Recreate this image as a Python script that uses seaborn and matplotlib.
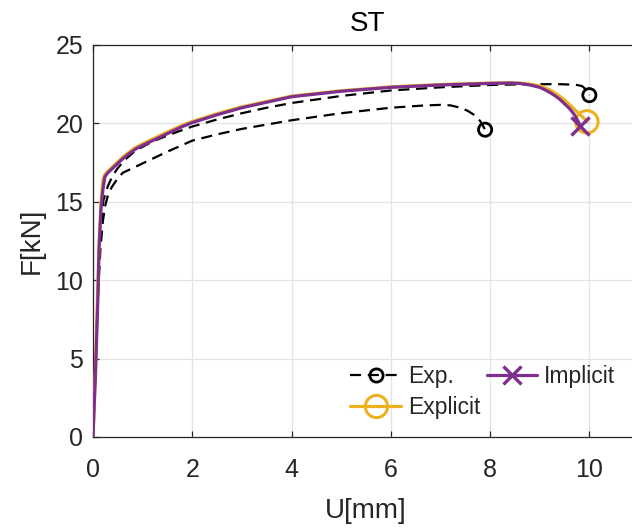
import matplotlib
matplotlib.use("Agg")
import matplotlib.pyplot as plt
import seaborn as sns
from matplotlib.lines import Line2D

# ---- data ----
u_exp1 = [0, 0.05, 0.10, 0.15, 0.21, 0.30, 0.40, 0.50, 0.65, 0.85, 1.2, 1.6, 2.0, 2.5, 3.0, 3.5, 4.0, 5.0, 6.0, 7.0, 8.0, 8.8, 9.4, 9.6, 9.75, 9.85, 9.92, 9.97, 10.0]
f_exp1 = [0, 4.5, 9.5, 13.0, 15.1, 16.0, 16.7, 17.15, 17.7, 18.25, 18.85, 19.35, 19.8, 20.25, 20.65, 21.0, 21.3, 21.75, 22.1, 22.3, 22.45, 22.5, 22.5, 22.48, 22.45, 22.38, 22.2, 22.0, 21.8]

u_exp2 = [0, 0.05, 0.10, 0.15, 0.20, 0.25, 0.30, 0.38, 0.50, 0.60, 0.80, 1.0, 1.5, 2.0, 2.5, 3.0, 4.0, 5.0, 6.0, 6.7, 7.0, 7.2, 7.4, 7.55, 7.7, 7.8, 7.9]
f_exp2 = [0, 4.5, 9.0, 12.0, 13.8, 14.8, 15.4, 15.95, 16.5, 16.85, 17.15, 17.45, 18.2, 18.9, 19.3, 19.65, 20.2, 20.65, 21.0, 21.15, 21.18, 21.15, 21.0, 20.8, 20.5, 20.15, 19.6]

u_expl = [0, 0.05, 0.10, 0.13, 0.16, 0.20, 0.24, 0.30, 0.40, 0.50, 0.60, 0.70, 0.85, 1.0, 1.2, 1.4, 1.6, 1.8, 2.0, 2.5, 3.0, 3.5, 4.0, 5.0, 6.0, 7.0, 8.0, 8.4, 8.7, 9.0, 9.2, 9.35, 9.5, 9.6, 9.7, 9.8, 9.9, 9.95]
f_expl = [0, 4.5, 10.0, 12.8, 14.9, 16.4, 16.75, 16.95, 17.25, 17.55, 17.85, 18.1, 18.45, 18.7, 19.0, 19.3, 19.6, 19.88, 20.12, 20.62, 21.06, 21.4, 21.74, 22.08, 22.33, 22.48, 22.57, 22.6, 22.55, 22.4, 22.15, 21.85, 21.5, 21.2, 20.9, 20.6, 20.3, 20.1]

u_impl = [0, 0.05, 0.10, 0.12, 0.16, 0.20, 0.24, 0.30, 0.40, 0.50, 0.60, 0.70, 0.85, 1.0, 1.2, 1.4, 1.6, 1.8, 2.0, 2.5, 3.0, 3.5, 4.0, 5.0, 6.0, 7.0, 8.0, 8.4, 8.6, 8.8, 9.0, 9.1, 9.2, 9.3, 9.4, 9.5, 9.6, 9.7, 9.82]
f_impl = [0, 4.0, 9.0, 11.9, 14.5, 15.8, 16.6, 16.85, 17.15, 17.45, 17.75, 18.0, 18.35, 18.6, 18.9, 19.2, 19.5, 19.8, 20.05, 20.55, 21.0, 21.35, 21.7, 22.05, 22.3, 22.45, 22.55, 22.57, 22.55, 22.45, 22.3, 22.15, 21.98, 21.78, 21.55, 21.25, 20.95, 20.55, 19.85]

x_ticks = [0, 2, 4, 6, 8, 10]
y_ticks = [0, 5, 10, 15, 20, 25]

c_exp = "black"
c_expl = "#EDB120"
c_impl = "#7E2F8E"

sns.set_style("ticks")
plt.rcParams["font.family"] = ["Liberation Sans", "DejaVu Sans"]

fig = plt.figure(figsize=(6.32, 5.28), dpi=100)
W, H = 632, 528
ax = fig.add_axes([93 / W, (H - 437) / H, (639 - 93) / W, (437 - 45) / H])

lw_sim = 2.3
lw_exp = 1.6
dash = (5, 3)

for u, f in [(u_exp1, f_exp1), (u_exp2, f_exp2)]:
    sns.lineplot(x=u, y=f, ax=ax, sort=False, estimator=None, color=c_exp,
                 lw=lw_exp, zorder=3)
    ax.lines[-1].set_dashes(dash)
    sns.scatterplot(x=[u[-1]], y=[f[-1]], ax=ax, marker="o", s=90, facecolor="none",
                    edgecolor=c_exp, linewidth=2.0, zorder=4)

sns.lineplot(x=u_expl, y=f_expl, ax=ax, sort=False, estimator=None, color=c_expl, lw=lw_sim, zorder=5)
sns.scatterplot(x=[u_expl[-1]], y=[f_expl[-1]], ax=ax, marker="o", s=260, facecolor="none",
                edgecolor=c_expl, linewidth=2.2, zorder=5)
sns.lineplot(x=u_impl, y=f_impl, ax=ax, sort=False, estimator=None, color=c_impl, lw=lw_sim, zorder=6)
sns.scatterplot(x=[u_impl[-1]], y=[f_impl[-1]], ax=ax, marker="x", s=170, color=c_impl,
                linewidth=2.4, zorder=6)

ax.set_xlim(0, 11)
ax.set_ylim(0, 25)
ax.set_xticks(x_ticks)
ax.set_yticks(y_ticks)
ax.grid(True, color="#e3e3e3", lw=0.9)
ax.set_axisbelow(True)

for s in ["left", "bottom", "top"]:
    ax.spines[s].set_color("#262626")
    ax.spines[s].set_linewidth(0.9)
ax.spines["right"].set_visible(False)
ax.tick_params(axis="both", direction="in", length=4.5, width=0.9, color="#262626",
               labelcolor="#262626", labelsize=18, top=True)
ax.tick_params(axis="x", pad=15)
ax.tick_params(axis="y", pad=7)

ax.set_xlabel("U[mm]", fontsize=20, color="#262626", labelpad=12)
ax.set_ylabel("F[kN]", fontsize=20, color="#262626", labelpad=8)
fig.text(368 / W, 1 - 24 / H, "ST", fontsize=20, ha="center", va="center", color="black")

handles = [
    Line2D([], [], color=c_exp, lw=lw_exp, dashes=dash, marker="o", ms=9.5, mfc="none", mew=2.0),
    Line2D([], [], color=c_expl, lw=lw_sim, marker="o", ms=16, mfc="none", mew=2.2),
    Line2D([], [], color=c_impl, lw=lw_sim, marker="x", ms=13, mew=2.4),
]
ax.legend(handles, ["Exp.", "Explicit", "Implicit"], ncol=2, frameon=False, fontsize=16.5,
          handlelength=2.2, handletextpad=0.3, columnspacing=0.3, labelspacing=0.32,
          borderpad=0, loc="lower left", bbox_to_anchor=(339 / W, 98 / H),
          bbox_transform=fig.transFigure)

fig.savefig("out.png", dpi=100)
